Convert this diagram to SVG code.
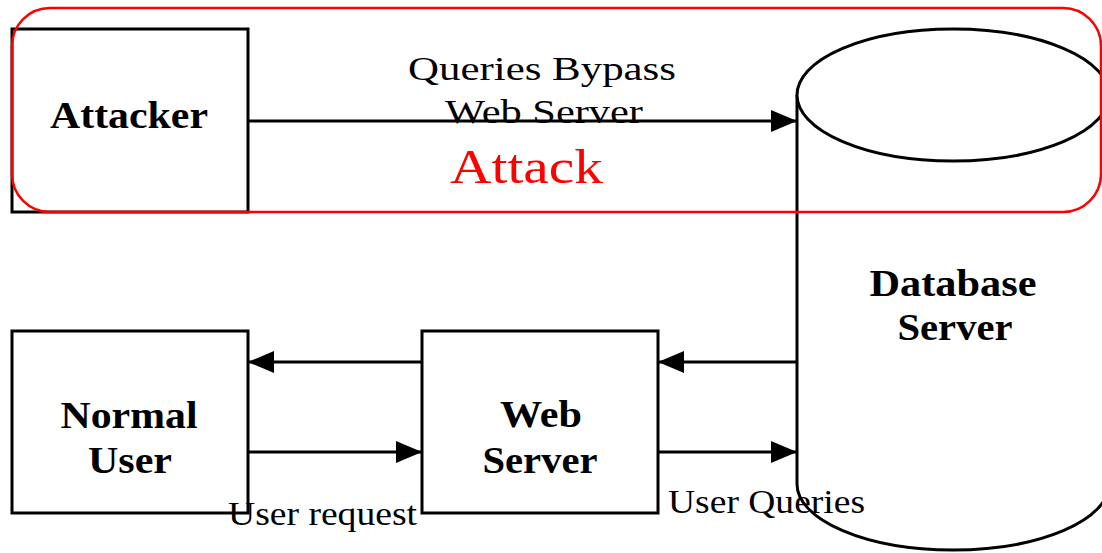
<svg xmlns="http://www.w3.org/2000/svg" width="1102" height="553" viewBox="0 0 1102 553">
<style>
.box{fill:#fff;stroke:#000;stroke-width:3}
.lbl{font-family:"Liberation Serif","Times New Roman",serif;font-weight:bold;font-size:37px;fill:#000;text-anchor:middle}
.reg{font-family:"Liberation Serif","Times New Roman",serif;font-size:33px;fill:#000}
.conn{stroke:#000;stroke-width:3;fill:none;marker-end:url(#ah)}
</style>
<defs>
<marker id="ah" markerUnits="userSpaceOnUse" markerWidth="26" markerHeight="22" refX="26" refY="11" orient="auto">
<path d="M0,0 L26,11 L0,22 z" fill="#000"/>
</marker>
</defs>
<rect width="1102" height="553" fill="#fff"/>
<g id="database">
<path class="box" d="M797,95 L797,484 A156,66 0 0 0 1109,484 L1109,95"/>
<ellipse class="box" cx="953" cy="95" rx="156" ry="66"/>
<text class="lbl" x="953" y="296" textLength="167" lengthAdjust="spacingAndGlyphs">Database</text>
<text class="lbl" x="955" y="340" textLength="115" lengthAdjust="spacingAndGlyphs">Server</text>
</g>
<g id="attacker">
<rect class="box" x="12" y="29" width="236" height="183"/>
<text class="lbl" x="129" y="128" textLength="158" lengthAdjust="spacingAndGlyphs">Attacker</text>
</g>
<g id="normal-user">
<rect class="box" x="12" y="331" width="236" height="182"/>
<text class="lbl" x="129" y="428" textLength="137" lengthAdjust="spacingAndGlyphs">Normal</text>
<text class="lbl" x="130" y="473" textLength="84" lengthAdjust="spacingAndGlyphs">User</text>
</g>
<g id="web-server">
<rect class="box" x="422" y="331" width="236" height="182"/>
<text class="lbl" x="541" y="427" textLength="82" lengthAdjust="spacingAndGlyphs">Web</text>
<text class="lbl" x="540" y="473" textLength="115" lengthAdjust="spacingAndGlyphs">Server</text>
</g>
<g id="connectors">
<line class="conn" x1="248" y1="121" x2="797" y2="121"/>
<line class="conn" x1="422" y1="362" x2="248" y2="362"/>
<line class="conn" x1="248" y1="452" x2="422" y2="452"/>
<line class="conn" x1="797" y1="362" x2="658" y2="362"/>
<line class="conn" x1="658" y1="452" x2="797" y2="452"/>
</g>
<g id="labels">
<text class="reg" x="408" y="80" textLength="268" lengthAdjust="spacingAndGlyphs">Queries Bypass</text>
<text class="reg" x="445" y="123" textLength="198" lengthAdjust="spacingAndGlyphs">Web Server</text>
<text class="reg" x="228" y="525" font-size="30" textLength="189" lengthAdjust="spacingAndGlyphs">User request</text>
<text class="reg" x="668" y="513" font-size="30" textLength="197" lengthAdjust="spacingAndGlyphs">User Queries</text>
</g>
<g id="attack-zone">
<rect x="12" y="8" width="1089" height="204" rx="38" ry="38" fill="none" stroke="#f00" stroke-width="2.5"/>
<text x="450" y="183" font-family="'Liberation Serif','Times New Roman',serif" font-size="48" fill="#f00" textLength="153" lengthAdjust="spacingAndGlyphs">Attack</text>
</g>
</svg>
